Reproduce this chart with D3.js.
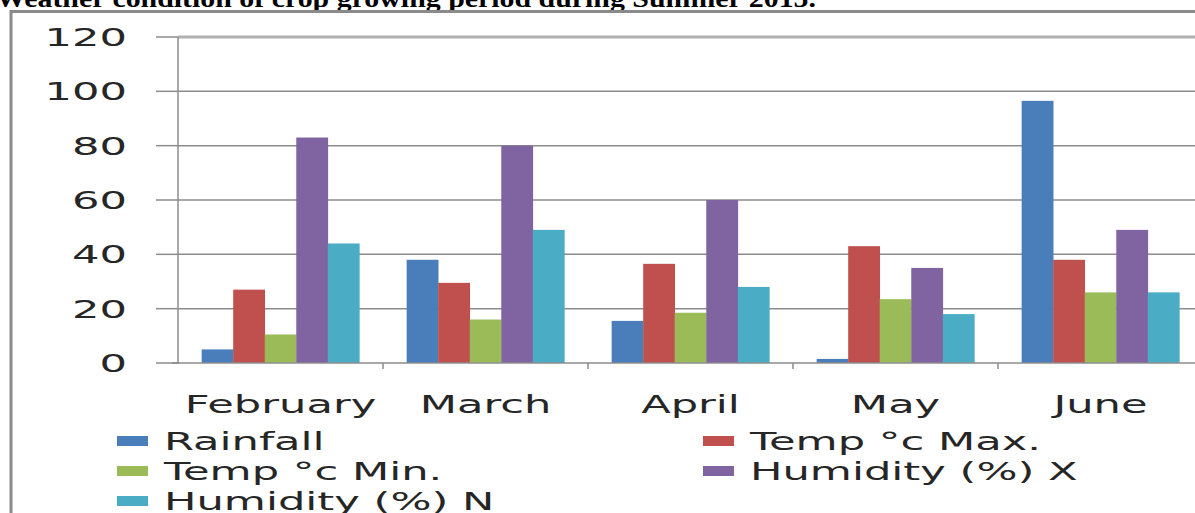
<!DOCTYPE html>
<html lang="en">
  <head>
    <meta charset="utf-8">
    <title>Weather condition of crop growing period</title>
    <style>
      body { margin: 0; background: #fff; }
      svg { display: block; }
      text.lbl { font-family: "DejaVu Sans", Verdana, sans-serif; font-size: 24px; fill: #262626; }
      text.title { font-family: "Liberation Serif", "Times New Roman", serif; font-weight: bold; font-size: 26px; fill: #000; }
    </style>
    <script src="https://cdn.jsdelivr.net/npm/d3@7"></script>
  </head>
  <body>
    <script>
      // data
      var months = ["February", "March", "April", "May", "June"];
      var seriesNames = ["Rainfall", "Temp \u00b0c Max.", "Temp \u00b0c Min.", "Humidity (%) X", "Humidity (%) N"];
      var rainfall  = [5, 38, 15.5, 1.5, 96.5];
      var tempMax   = [27, 29.5, 36.5, 43, 38];
      var tempMin   = [10.5, 16, 18.5, 23.5, 26];
      var humidityX = [83, 80, 60, 35, 49];
      var humidityN = [44, 49, 28, 18, 26];
      var yTicks = [0, 20, 40, 60, 80, 100, 120];
      var colors = ["#4a7ebb", "#c0504d", "#9bbb59", "#8064a2", "#4bacc6"];

      var series = [rainfall, tempMax, tempMin, humidityX, humidityN];
      var W = 1195, H = 513, stretch = 1.8;

      var svg = d3.select("body").append("svg").attr("width", W).attr("height", H);

      // title, cut off at the top of the picture
      svg.append("text").attr("class", "title")
        .attr("x", -4).attr("y", 7)
        .attr("textLength", 820).attr("lengthAdjust", "spacingAndGlyphs")
        .text("Weather condition of crop growing period during Summer 2015.");

      // chart frame
      svg.append("path").attr("d", "M11,513V11.5H1195")
        .attr("fill", "none").attr("stroke", "#8a8a8a").attr("stroke-width", 3);

      var x = d3.scaleBand().domain(months).range([178, 1203]);
      var bw = x.bandwidth() / 6.5;   // gap width 150%
      var y = d3.scaleLinear().domain([0, 120]).range([363, 37]);

      // gridlines
      svg.append("g").selectAll("line").data(yTicks.slice(1)).join("line")
        .attr("x1", 178).attr("x2", W)
        .attr("y1", d => y(d)).attr("y2", d => y(d))
        .attr("stroke", d => d == 120 ? "#b0b0b0" : "#8c8c8c")
        .attr("stroke-width", d => d == 120 ? 3 : 1.5);

      // bars
      var rows = [];
      months.forEach(function (m, i) {
        series.forEach(function (s, j) { rows.push({m: m, j: j, v: s[i]}); });
      });
      svg.append("g").selectAll("rect").data(rows).join("rect")
        .attr("x", d => x(d.m) + bw * 0.75 + d.j * bw)
        .attr("width", bw + 0.3)
        .attr("y", d => y(d.v))
        .attr("height", d => y(0) - y(d.v))
        .attr("fill", d => colors[d.j]);

      // axes lines and ticks
      var ax = svg.append("g").attr("stroke", "#8c8c8c").attr("stroke-width", 1.5);
      ax.append("line").attr("x1", 178).attr("x2", 178).attr("y1", y(120)).attr("y2", y(0) + 1);
      ax.append("line").attr("x1", 172).attr("x2", W).attr("y1", y(0)).attr("y2", y(0));
      ax.selectAll("line.yt").data(yTicks).join("line").attr("class", "yt")
        .attr("x1", 156).attr("x2", 178).attr("y1", d => y(d)).attr("y2", d => y(d));
      ax.selectAll("line.xt").data(months.slice(1)).join("line").attr("class", "xt")
        .attr("x1", d => x(d)).attr("x2", d => x(d)).attr("y1", y(0)).attr("y2", y(0) + 6);

      // y labels (the picture is stretched sideways, so the text is too)
      svg.append("g").selectAll("text").data(yTicks).join("text").attr("class", "lbl")
        .attr("transform", d => "translate(127," + (y(d) + 9) + ") scale(" + stretch + ",1)")
        .attr("text-anchor", "end").text(d => d);

      // x labels
      svg.append("g").selectAll("text").data(months).join("text").attr("class", "lbl")
        .attr("transform", d => "translate(" + (x(d) + x.bandwidth() / 2) + ",413) scale(" + stretch + ",1)")
        .attr("text-anchor", "middle").text(d => d);

      // legend, two columns
      var leg = svg.append("g").selectAll("g").data(seriesNames).join("g")
        .attr("transform", (d, i) => "translate(" + (i % 2 ? 703 : 117) + "," + (441 + Math.floor(i / 2) * 30) + ")");
      leg.append("rect").attr("x", 0).attr("y", -5).attr("width", 31).attr("height", 10)
        .attr("fill", (d, i) => colors[i]);
      leg.append("text").attr("class", "lbl")
        .attr("transform", "translate(47,9) scale(" + stretch + ",1)")
        .text(d => d);
    </script>
  </body>
</html>
